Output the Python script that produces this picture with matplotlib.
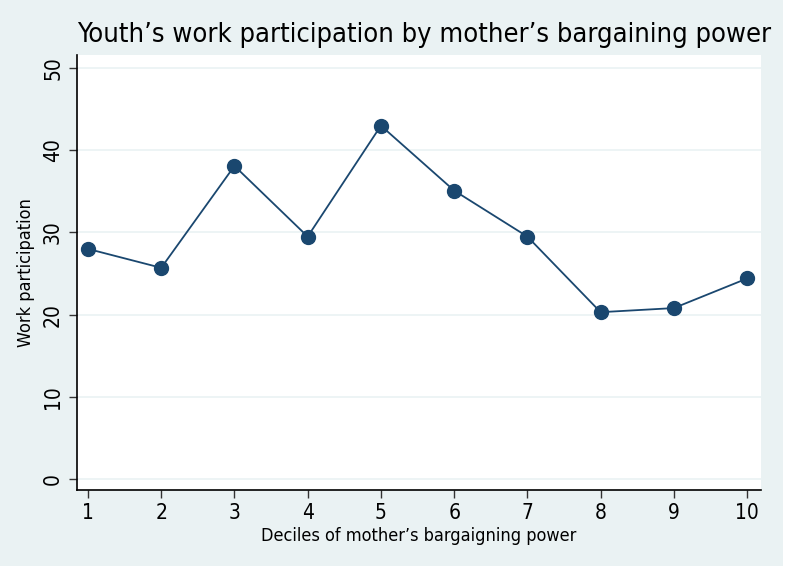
import matplotlib.pyplot as plt
from matplotlib.patches import Rectangle

deciles = [1, 2, 3, 4, 5, 6, 7, 8, 9, 10]
participation = [28.0, 25.7, 38.1, 29.5, 43.0, 35.1, 29.5, 20.3, 20.8, 24.4]
yticks = [0, 10, 20, 30, 40, 50]

plt.rcParams['font.family'] = ['DejaVu Sans']
plt.rcParams['font.stretch'] = 'condensed'

bg = '#eaf2f3'
navy = '#1a476f'

fig = plt.figure(figsize=(8, 5.66), dpi=100, facecolor=bg)
fig.patches.append(Rectangle((0.979, 0), 0.021, 1, transform=fig.transFigure,
                             facecolor='white', edgecolor='none', zorder=-1))
ax = fig.add_axes([77 / 800, 1 - 490 / 566, (761 - 77) / 800, (490 - 55) / 566])
ax.set_facecolor('white')

ax.plot(deciles, participation, color=navy, lw=1.3, marker='o',
        markersize=10, markerfacecolor=navy, markeredgecolor=navy, zorder=3)

ax.set_xlim(0.85, 10.19)
ax.set_ylim(-1.34, 51.6)
ax.set_xticks(deciles)
ax.set_yticks(yticks)
ax.set_yticklabels([str(v) for v in yticks], rotation=90, va='center')
ax.grid(axis='y', color=bg, lw=1.2)
ax.set_axisbelow(True)

for s in ['top', 'right']:
    ax.spines[s].set_visible(False)
for s in ['left', 'bottom']:
    ax.spines[s].set_linewidth(1.2)

ax.tick_params(axis='both', labelsize=15, length=6, width=1, color='#333333')
ax.tick_params(axis='y', pad=4)

ax.set_xlabel("Deciles of mother\u2019s bargaigning power", fontsize=13, labelpad=3)
ax.set_ylabel("Work participation", fontsize=13, labelpad=6)
fig.text(0.53, 1 - 35 / 566, "Youth\u2019s work participation by mother\u2019s bargaining power",
         ha='center', va='center', fontsize=19.5)

fig.savefig('out.png', dpi=100, facecolor=bg)
